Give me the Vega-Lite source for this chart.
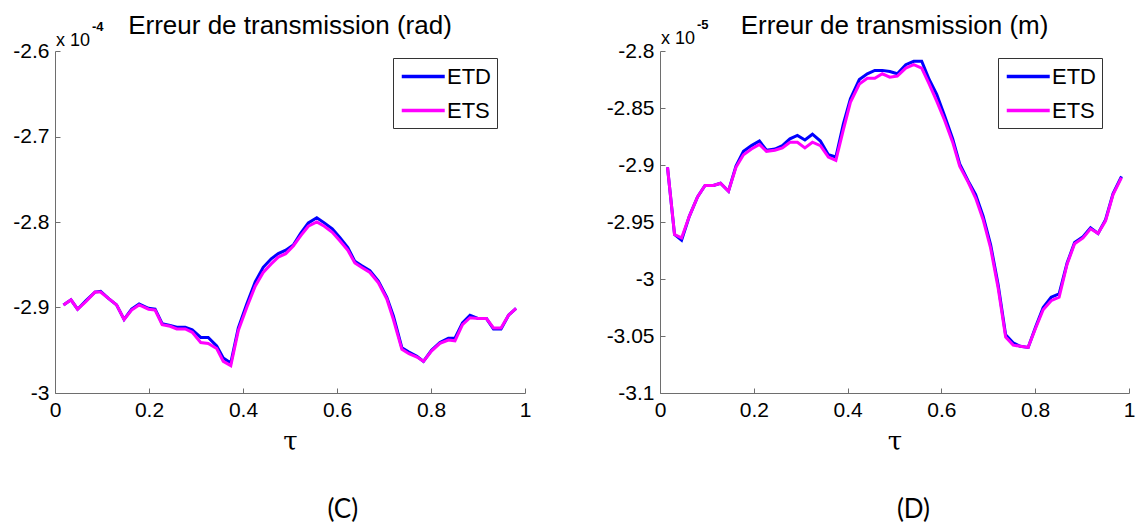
{
  "$schema": "https://vega.github.io/schema/vega-lite/v6.json",
  "background": "white",
  "padding": {"left": 12, "top": 13, "right": 5, "bottom": 2},
  "datasets": {
    "c": [
      {"tau": 0.018, "ETD": -2.897, "ETS": -2.897},
      {"tau": 0.034, "ETD": -2.891, "ETS": -2.891},
      {"tau": 0.048, "ETD": -2.902, "ETS": -2.902},
      {"tau": 0.066, "ETD": -2.892, "ETS": -2.893},
      {"tau": 0.085, "ETD": -2.882, "ETS": -2.882},
      {"tau": 0.097, "ETD": -2.881, "ETS": -2.882},
      {"tau": 0.113, "ETD": -2.889, "ETS": -2.889},
      {"tau": 0.131, "ETD": -2.897, "ETS": -2.897},
      {"tau": 0.147, "ETD": -2.914, "ETS": -2.914},
      {"tau": 0.163, "ETD": -2.902, "ETS": -2.903},
      {"tau": 0.179, "ETD": -2.896, "ETS": -2.897},
      {"tau": 0.199, "ETD": -2.901, "ETS": -2.902},
      {"tau": 0.213, "ETD": -2.902, "ETS": -2.903},
      {"tau": 0.228, "ETD": -2.919, "ETS": -2.920},
      {"tau": 0.245, "ETD": -2.921, "ETS": -2.922},
      {"tau": 0.259, "ETD": -2.923, "ETS": -2.925},
      {"tau": 0.277, "ETD": -2.923, "ETS": -2.925},
      {"tau": 0.292, "ETD": -2.926, "ETS": -2.929},
      {"tau": 0.310, "ETD": -2.935, "ETS": -2.941},
      {"tau": 0.326, "ETD": -2.935, "ETS": -2.942},
      {"tau": 0.344, "ETD": -2.945, "ETS": -2.948},
      {"tau": 0.358, "ETD": -2.959, "ETS": -2.963},
      {"tau": 0.374, "ETD": -2.965, "ETS": -2.968},
      {"tau": 0.390, "ETD": -2.924, "ETS": -2.927},
      {"tau": 0.408, "ETD": -2.896, "ETS": -2.900},
      {"tau": 0.426, "ETD": -2.870, "ETS": -2.875},
      {"tau": 0.443, "ETD": -2.853, "ETS": -2.859},
      {"tau": 0.460, "ETD": -2.843, "ETS": -2.849},
      {"tau": 0.475, "ETD": -2.837, "ETS": -2.841},
      {"tau": 0.491, "ETD": -2.833, "ETS": -2.837},
      {"tau": 0.507, "ETD": -2.827, "ETS": -2.828},
      {"tau": 0.523, "ETD": -2.813, "ETS": -2.816},
      {"tau": 0.539, "ETD": -2.801, "ETS": -2.805},
      {"tau": 0.557, "ETD": -2.795, "ETS": -2.800},
      {"tau": 0.573, "ETD": -2.801, "ETS": -2.805},
      {"tau": 0.590, "ETD": -2.808, "ETS": -2.812},
      {"tau": 0.606, "ETD": -2.818, "ETS": -2.822},
      {"tau": 0.623, "ETD": -2.830, "ETS": -2.833},
      {"tau": 0.638, "ETD": -2.846, "ETS": -2.848},
      {"tau": 0.652, "ETD": -2.851, "ETS": -2.853},
      {"tau": 0.670, "ETD": -2.857, "ETS": -2.859},
      {"tau": 0.688, "ETD": -2.869, "ETS": -2.871},
      {"tau": 0.706, "ETD": -2.888, "ETS": -2.890},
      {"tau": 0.720, "ETD": -2.910, "ETS": -2.914},
      {"tau": 0.738, "ETD": -2.947, "ETS": -2.949},
      {"tau": 0.753, "ETD": -2.952, "ETS": -2.954},
      {"tau": 0.770, "ETD": -2.957, "ETS": -2.958},
      {"tau": 0.784, "ETD": -2.963, "ETS": -2.963},
      {"tau": 0.801, "ETD": -2.950, "ETS": -2.951},
      {"tau": 0.819, "ETD": -2.941, "ETS": -2.942},
      {"tau": 0.837, "ETD": -2.936, "ETS": -2.938},
      {"tau": 0.851, "ETD": -2.936, "ETS": -2.939},
      {"tau": 0.867, "ETD": -2.918, "ETS": -2.920},
      {"tau": 0.883, "ETD": -2.909, "ETS": -2.912},
      {"tau": 0.901, "ETD": -2.913, "ETS": -2.913},
      {"tau": 0.918, "ETD": -2.913, "ETS": -2.913},
      {"tau": 0.933, "ETD": -2.925, "ETS": -2.924},
      {"tau": 0.949, "ETD": -2.925, "ETS": -2.924},
      {"tau": 0.965, "ETD": -2.909, "ETS": -2.909},
      {"tau": 0.981, "ETD": -2.901, "ETS": -2.901}
    ],
    "d": [
      {"tau": 0.016, "ETD": -2.902, "ETS": -2.902},
      {"tau": 0.031, "ETD": -2.961, "ETS": -2.961},
      {"tau": 0.046, "ETD": -2.966, "ETS": -2.964},
      {"tau": 0.0625, "ETD": -2.945, "ETS": -2.945},
      {"tau": 0.080, "ETD": -2.928, "ETS": -2.928},
      {"tau": 0.096, "ETD": -2.918, "ETS": -2.918},
      {"tau": 0.114, "ETD": -2.918, "ETS": -2.918},
      {"tau": 0.129, "ETD": -2.916, "ETS": -2.916},
      {"tau": 0.146, "ETD": -2.923, "ETS": -2.923},
      {"tau": 0.162, "ETD": -2.901, "ETS": -2.902},
      {"tau": 0.178, "ETD": -2.888, "ETS": -2.891},
      {"tau": 0.195, "ETD": -2.883, "ETS": -2.886},
      {"tau": 0.212, "ETD": -2.879, "ETS": -2.882},
      {"tau": 0.227, "ETD": -2.887, "ETS": -2.888},
      {"tau": 0.245, "ETD": -2.886, "ETS": -2.887},
      {"tau": 0.261, "ETD": -2.883, "ETS": -2.885},
      {"tau": 0.277, "ETD": -2.877, "ETS": -2.880},
      {"tau": 0.293, "ETD": -2.874, "ETS": -2.880},
      {"tau": 0.309, "ETD": -2.878, "ETS": -2.885},
      {"tau": 0.325, "ETD": -2.873, "ETS": -2.880},
      {"tau": 0.342, "ETD": -2.879, "ETS": -2.883},
      {"tau": 0.359, "ETD": -2.891, "ETS": -2.893},
      {"tau": 0.375, "ETD": -2.893, "ETS": -2.896},
      {"tau": 0.391, "ETD": -2.864, "ETS": -2.869},
      {"tau": 0.406, "ETD": -2.842, "ETS": -2.845},
      {"tau": 0.425, "ETD": -2.825, "ETS": -2.829},
      {"tau": 0.442, "ETD": -2.820, "ETS": -2.824},
      {"tau": 0.458, "ETD": -2.817, "ETS": -2.824},
      {"tau": 0.474, "ETD": -2.817, "ETS": -2.820},
      {"tau": 0.490, "ETD": -2.818, "ETS": -2.823},
      {"tau": 0.506, "ETD": -2.820, "ETS": -2.822},
      {"tau": 0.524, "ETD": -2.812, "ETS": -2.815},
      {"tau": 0.541, "ETD": -2.809, "ETS": -2.812},
      {"tau": 0.558, "ETD": -2.809, "ETS": -2.815},
      {"tau": 0.574, "ETD": -2.825, "ETS": -2.829},
      {"tau": 0.590, "ETD": -2.838, "ETS": -2.844},
      {"tau": 0.607, "ETD": -2.857, "ETS": -2.861},
      {"tau": 0.624, "ETD": -2.877, "ETS": -2.880},
      {"tau": 0.639, "ETD": -2.899, "ETS": -2.901},
      {"tau": 0.657, "ETD": -2.914, "ETS": -2.915},
      {"tau": 0.673, "ETD": -2.926, "ETS": -2.929},
      {"tau": 0.689, "ETD": -2.945, "ETS": -2.948},
      {"tau": 0.705, "ETD": -2.970, "ETS": -2.973},
      {"tau": 0.721, "ETD": -3.005, "ETS": -3.008},
      {"tau": 0.737, "ETD": -3.049, "ETS": -3.051},
      {"tau": 0.753, "ETD": -3.056, "ETS": -3.058},
      {"tau": 0.768, "ETD": -3.059, "ETS": -3.059},
      {"tau": 0.785, "ETD": -3.060, "ETS": -3.060},
      {"tau": 0.801, "ETD": -3.042, "ETS": -3.043},
      {"tau": 0.817, "ETD": -3.025, "ETS": -3.027},
      {"tau": 0.834, "ETD": -3.016, "ETS": -3.019},
      {"tau": 0.851, "ETD": -3.013, "ETS": -3.016},
      {"tau": 0.868, "ETD": -2.986, "ETS": -2.987},
      {"tau": 0.884, "ETD": -2.968, "ETS": -2.969},
      {"tau": 0.902, "ETD": -2.963, "ETS": -2.964},
      {"tau": 0.918, "ETD": -2.955, "ETS": -2.956},
      {"tau": 0.934, "ETD": -2.960, "ETS": -2.960},
      {"tau": 0.950, "ETD": -2.948, "ETS": -2.949},
      {"tau": 0.966, "ETD": -2.925, "ETS": -2.926},
      {"tau": 0.984, "ETD": -2.910, "ETS": -2.911}
    ],
    "expC": [{"base": "x 10", "exp": "-4"}],
    "expD": [{"base": "x 10", "exp": "-5"}]
  },
  "spacing": 75,
  "resolve": {"scale": {"color": "independent", "y": "independent"}, "legend": {"color": "independent"}},
  "hconcat": [
    {
      "title": {"text": "(C)", "orient": "bottom", "offset": 43, "frame": "bounds", "anchor": "middle", "dx": 71, "font": "Lato", "fontSize": 26},
      "hconcat": [
        {
          "width": 470,
          "height": 342,
          "title": {"text": "Erreur de transmission (rad)", "offset": -18},
          "layer": [
            {
              "data": {"name": "c"},
              "transform": [{"fold": ["ETD", "ETS"], "as": ["serie", "val"]}],
              "mark": {"type": "line", "strokeWidth": 3},
              "encoding": {
                "x": {"field": "tau", "type": "quantitative", "scale": {"domain": [0, 1]},
                      "axis": {"values": [0, 0.2, 0.4, 0.6, 0.8, 1], "title": "τ"}},
                "y": {"field": "val", "type": "quantitative", "scale": {"domain": [-3, -2.6]},
                      "axis": {"values": [-3, -2.9, -2.8, -2.7, -2.6], "title": null}},
                "color": {"field": "serie", "type": "nominal",
                          "scale": {"domain": ["ETD", "ETS"], "range": ["#0000ff", "#ff00ff"]}}
              }
            },
            {
              "data": {"name": "expC"},
              "mark": {"type": "text", "align": "left", "baseline": "alphabetic", "dx": 1, "dy": -5, "fontSize": 18},
              "encoding": {"x": {"datum": 0}, "y": {"datum": -2.6}, "text": {"field": "base"}}
            },
            {
              "data": {"name": "expC"},
              "mark": {"type": "text", "align": "left", "baseline": "alphabetic", "dx": 37, "dy": -20, "fontSize": 13, "fontWeight": "bold"},
              "encoding": {"x": {"datum": 0}, "y": {"datum": -2.6}, "text": {"field": "exp"}}
            }
          ]
        }
      ]
    },
    {
      "title": {"text": "(D)", "orient": "bottom", "offset": 43, "frame": "bounds", "anchor": "middle", "dx": 43, "font": "Lato", "fontSize": 26},
      "hconcat": [
        {
          "width": 469,
          "height": 342,
          "title": {"text": "Erreur de transmission (m)", "offset": -20},
          "layer": [
            {
              "data": {"name": "d"},
              "transform": [{"fold": ["ETD", "ETS"], "as": ["serie", "val"]}],
              "mark": {"type": "line", "strokeWidth": 3},
              "encoding": {
                "x": {"field": "tau", "type": "quantitative", "scale": {"domain": [0, 1]},
                      "axis": {"values": [0, 0.2, 0.4, 0.6, 0.8, 1], "title": "τ"}},
                "y": {"field": "val", "type": "quantitative", "scale": {"domain": [-3.1, -2.8]},
                      "axis": {"values": [-3.1, -3.05, -3, -2.95, -2.9, -2.85, -2.8], "title": null}},
                "color": {"field": "serie", "type": "nominal",
                          "scale": {"domain": ["ETD", "ETS"], "range": ["#0000ff", "#ff00ff"]}}
              }
            },
            {
              "data": {"name": "expD"},
              "mark": {"type": "text", "align": "left", "baseline": "alphabetic", "dx": 1, "dy": -7, "fontSize": 18},
              "encoding": {"x": {"datum": 0}, "y": {"datum": -2.8}, "text": {"field": "base"}}
            },
            {
              "data": {"name": "expD"},
              "mark": {"type": "text", "align": "left", "baseline": "alphabetic", "dx": 37, "dy": -22, "fontSize": 13, "fontWeight": "bold"},
              "encoding": {"x": {"datum": 0}, "y": {"datum": -2.8}, "text": {"field": "exp"}}
            }
          ]
        }
      ]
    }
  ],
  "config": {
    "view": {"stroke": null},
    "font": "Liberation Sans",
    "text": {"font": "Liberation Sans", "color": "black"},
    "title": {"font": "Liberation Sans", "fontSize": 26, "fontWeight": "normal", "color": "black", "frame": "group", "anchor": "middle", "baseline": "alphabetic"},
    "axis": {
      "grid": false,
      "domainColor": "#6e6e6e",
      "tickColor": "#6e6e6e",
      "tickSize": -5,
      "labelExpr": "toString(datum.value)",
      "labelFont": "Liberation Sans",
      "labelFontSize": 21,
      "labelColor": "black",
      "labelPadding": 11,
      "labelFlush": false,
      "labelOverlap": false,
      "titleFont": "DejaVu Serif",
      "titleFontSize": 26,
      "titleFontWeight": "normal",
      "titleColor": "black",
      "titlePadding": 8
    },
    "legend": {
      "orient": "none",
      "legendX": 338,
      "legendY": 7,
      "title": null,
      "strokeColor": "#333333",
      "fillColor": "white",
      "padding": 6,
      "labelFont": "Liberation Sans",
      "labelFontSize": 22,
      "labelColor": "black",
      "symbolType": "M-0.907,0L3.093,0",
      "symbolSize": 462,
      "symbolStrokeWidth": 3.5,
      "rowPadding": 10,
      "labelOffset": 23,
      "labelLimit": 0
    }
  }
}
